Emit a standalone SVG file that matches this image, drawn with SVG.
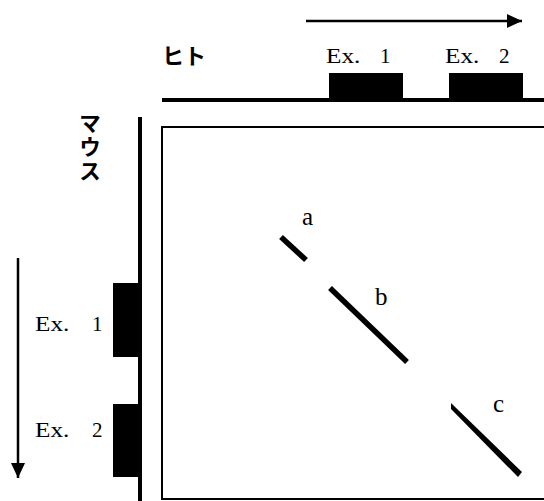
<svg xmlns="http://www.w3.org/2000/svg" width="544" height="501" viewBox="0 0 544 501">
  <style>
    .jp { font-family: "Noto Sans CJK JP", "Noto Sans", sans-serif; font-weight: bold; fill: #000; }
    .ex { font-family: "Liberation Serif", serif; font-size: 21px; fill: #000; }
    .lbl { font-family: "Liberation Serif", serif; font-size: 25px; fill: #000; }
    .axis { stroke: #000; stroke-width: 4; fill: none; }
    .exon { fill: #000; }
    .seg { stroke: #000; stroke-width: 5.5; stroke-linecap: butt; fill: none; }
    .arrow { stroke: #000; stroke-width: 2.5; fill: none; }
  </style>
  <defs>
    <marker id="head" viewBox="0 0 15 14" refX="15" refY="7" markerWidth="15" markerHeight="14" markerUnits="userSpaceOnUse" orient="auto">
      <path d="M0,0 L15,7 L0,14 Z" fill="#000"/>
    </marker>
  </defs>
  <rect width="544" height="501" fill="#fff"/>

  <!-- human sequence axis (top) -->
  <g id="human">
    <text class="jp" x="162" y="64" font-size="22">ヒト</text>
    <line class="axis" x1="162" y1="100" x2="544" y2="100"/>
    <rect class="exon" x="329" y="73" width="74" height="27"/>
    <rect class="exon" x="449" y="73" width="74" height="27"/>
    <text class="ex" transform="translate(326,63) scale(1.2,1)">Ex.</text>
    <text class="ex" x="380" y="63">1</text>
    <text class="ex" transform="translate(445,63) scale(1.2,1)">Ex.</text>
    <text class="ex" x="499" y="63">2</text>
  </g>

  <!-- mouse sequence axis (left) -->
  <g id="mouse">
    <text class="jp" x="90" y="112" font-size="22" letter-spacing="2" style="writing-mode: vertical-rl; text-orientation: upright">マウス</text>
    <line class="axis" x1="140" y1="117" x2="140" y2="501"/>
    <rect class="exon" x="113" y="283" width="27" height="74"/>
    <rect class="exon" x="113" y="404" width="27" height="73"/>
    <text class="ex" transform="translate(35,331) scale(1.2,1)">Ex.</text>
    <text class="ex" x="92" y="331">1</text>
    <text class="ex" transform="translate(35,437) scale(1.2,1)">Ex.</text>
    <text class="ex" x="92" y="437">2</text>
  </g>

  <!-- dot-plot panel with matching segments -->
  <g id="plot">
    <rect x="162" y="127" width="400" height="372" fill="none" stroke="#000" stroke-width="2"/>
    <line class="seg" x1="281" y1="237" x2="306" y2="260"/>
    <line class="seg" x1="330" y1="288" x2="407" y2="362"/>
    <path d="M451,403 L451,409 L518,477 L522,472 Z" fill="#000"/>
    <text class="lbl" x="302" y="225">a</text>
    <text class="lbl" x="375" y="305">b</text>
    <text class="lbl" x="493" y="412">c</text>
  </g>

  <!-- direction arrows -->
  <g id="connectors">
    <line class="arrow" x1="306" y1="21" x2="522" y2="21" marker-end="url(#head)"/>
    <line class="arrow" x1="18" y1="258" x2="18" y2="478" marker-end="url(#head)"/>
  </g>
</svg>
